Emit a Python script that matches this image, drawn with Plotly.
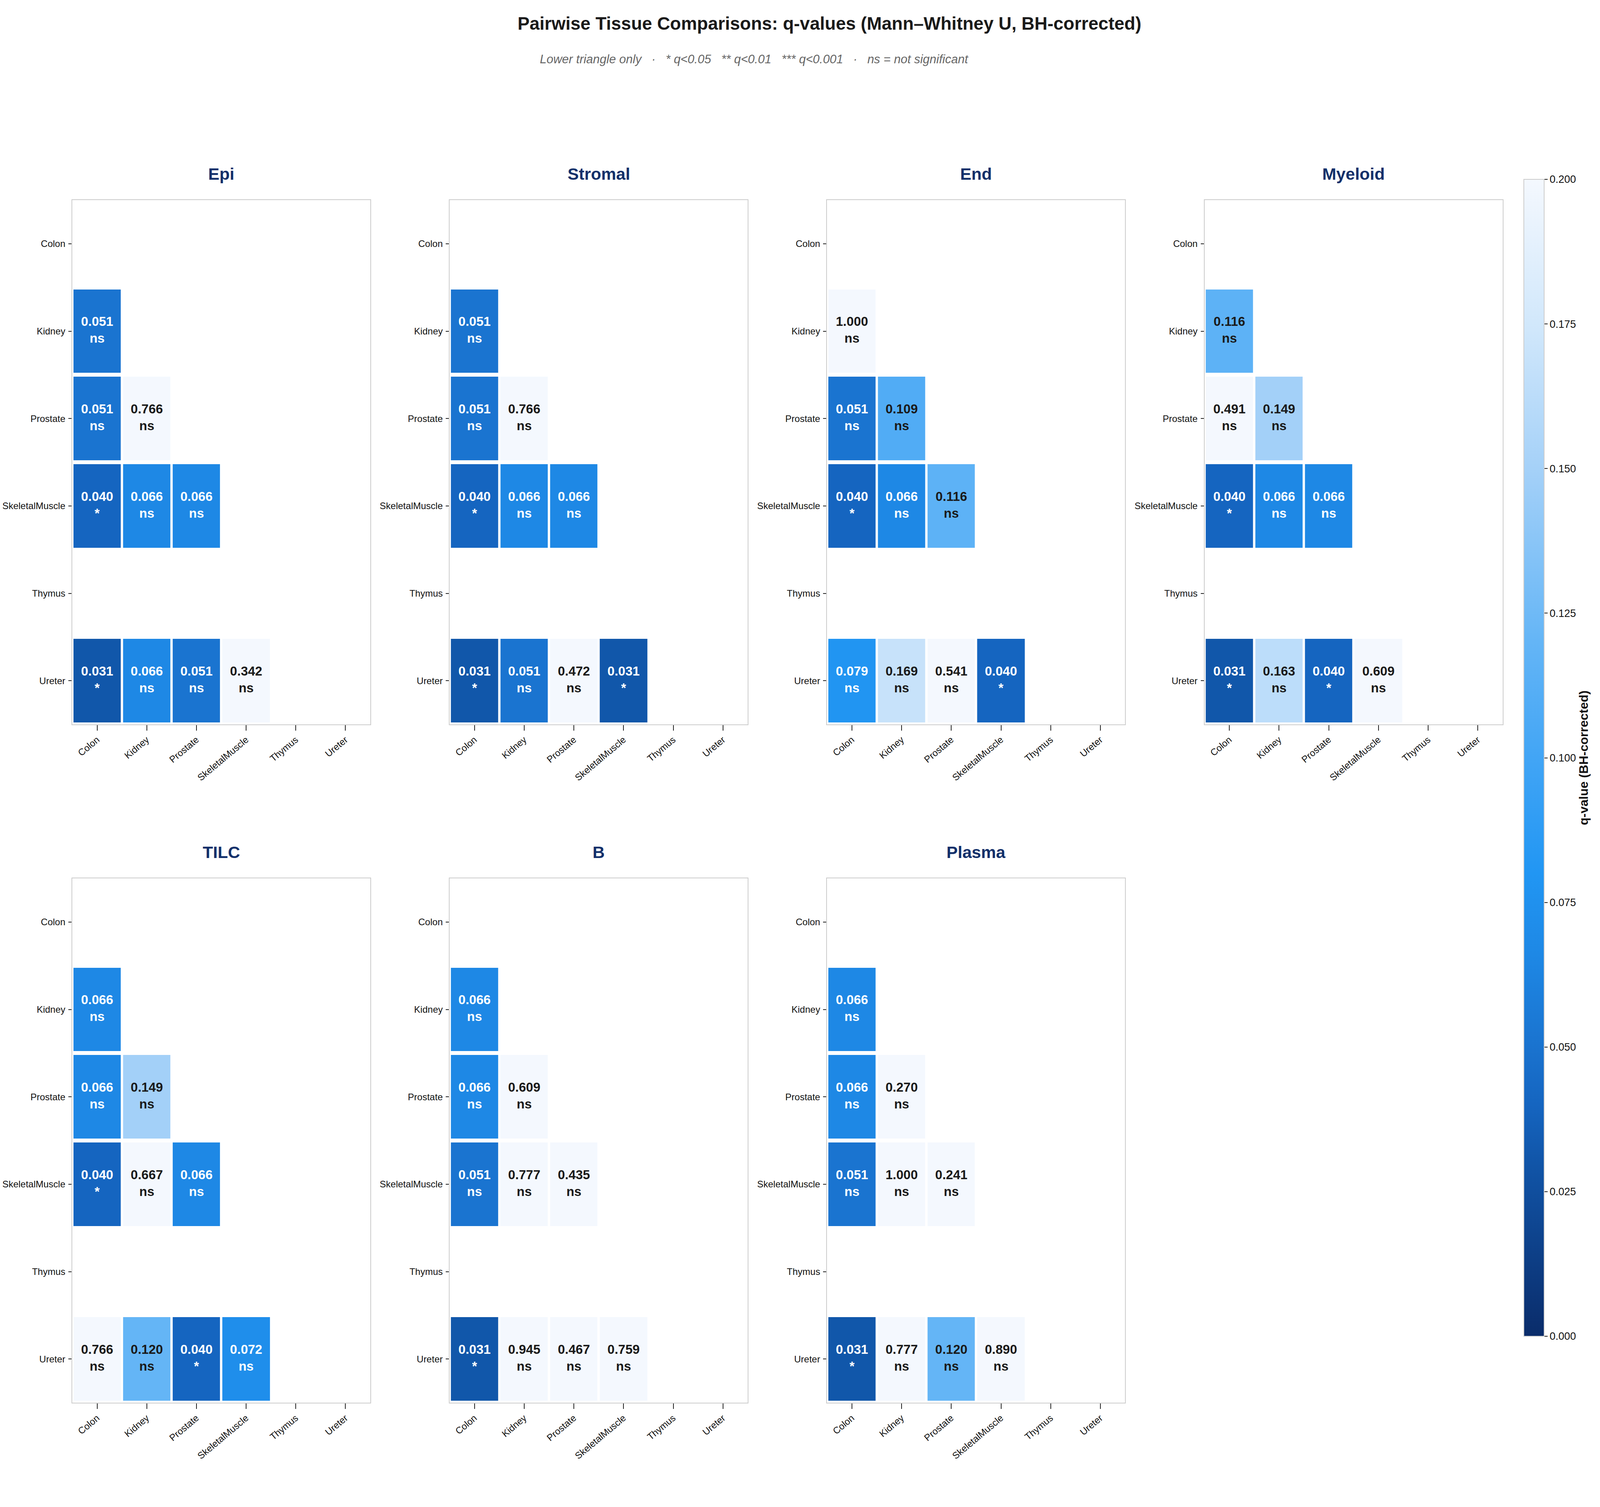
import plotly.graph_objects as go

# Browser viewport in the sandbox is clamped to 4096 px wide, so the figure is
# laid out in fractions of the reference canvas (7457 x 3857) and drawn 4096 wide.
REF_W, REF_H = 7457, 3857
W, H = 4096, 3857
SX = W / REF_W

tissues = ["Colon", "Kidney", "Prostate", "SkeletalMuscle", "Thymus", "Ureter"]
panel_names = ["Epi", "Stromal", "End", "Myeloid", "TILC", "B", "Plasma"]

N = None
q_epi = [
    [N, N, N, N, N, N],
    [0.051, N, N, N, N, N],
    [0.051, 0.766, N, N, N, N],
    [0.040, 0.066, 0.066, N, N, N],
    [N, N, N, N, N, N],
    [0.031, 0.066, 0.051, 0.342, N, N],
]
q_stromal = [
    [N, N, N, N, N, N],
    [0.051, N, N, N, N, N],
    [0.051, 0.766, N, N, N, N],
    [0.040, 0.066, 0.066, N, N, N],
    [N, N, N, N, N, N],
    [0.031, 0.051, 0.472, 0.031, N, N],
]
q_end = [
    [N, N, N, N, N, N],
    [1.000, N, N, N, N, N],
    [0.051, 0.109, N, N, N, N],
    [0.040, 0.066, 0.116, N, N, N],
    [N, N, N, N, N, N],
    [0.079, 0.169, 0.541, 0.040, N, N],
]
q_myeloid = [
    [N, N, N, N, N, N],
    [0.116, N, N, N, N, N],
    [0.491, 0.149, N, N, N, N],
    [0.040, 0.066, 0.066, N, N, N],
    [N, N, N, N, N, N],
    [0.031, 0.163, 0.040, 0.609, N, N],
]
q_tilc = [
    [N, N, N, N, N, N],
    [0.066, N, N, N, N, N],
    [0.066, 0.149, N, N, N, N],
    [0.040, 0.667, 0.066, N, N, N],
    [N, N, N, N, N, N],
    [0.766, 0.120, 0.040, 0.072, N, N],
]
q_b = [
    [N, N, N, N, N, N],
    [0.066, N, N, N, N, N],
    [0.066, 0.609, N, N, N, N],
    [0.051, 0.777, 0.435, N, N, N],
    [N, N, N, N, N, N],
    [0.031, 0.945, 0.467, 0.759, N, N],
]
q_plasma = [
    [N, N, N, N, N, N],
    [0.066, N, N, N, N, N],
    [0.066, 0.270, N, N, N, N],
    [0.051, 1.000, 0.241, N, N, N],
    [N, N, N, N, N, N],
    [0.031, 0.777, 0.120, 0.890, N, N],
]
q_all = [q_epi, q_stromal, q_end, q_myeloid, q_tilc, q_b, q_plasma]

cbar_ticks = [0.0, 0.025, 0.05, 0.075, 0.1, 0.125, 0.15, 0.175, 0.2]

colorscale = [
    [0.00, "#0a2c6a"],
    [0.15, "#1155a8"],
    [0.20, "#1565c0"],
    [0.25, "#1a73cf"],
    [0.33, "#1e88e5"],
    [0.40, "#2196f3"],
    [0.50, "#42a5f5"],
    [0.60, "#64b5f6"],
    [0.75, "#a5d1f8"],
    [0.87, "#d0e7fb"],
    [1.00, "#f4f8fe"],
]

FONT = "Liberation Sans, Arial, sans-serif"
# reference-canvas pixel positions of the plot areas
col_left_px = [337, 2096, 3855, 5614]
row_top_px = [512, 2248]
plot_w_px, plot_h_px = 1389, 1342


def fx(px):
    return px / REF_W


def fy(px):
    return 1 - px / REF_H


def sig_label(q):
    if q < 0.001:
        return "***"
    if q < 0.01:
        return "**"
    if q < 0.05:
        return "*"
    return "ns"


fig = go.Figure()
layout = dict(
    width=W, height=H, autosize=False,
    margin=dict(l=0, r=0, t=0, b=0, pad=0),
    paper_bgcolor="white", plot_bgcolor="white",
    font=dict(family=FONT, color="#111111"),
    showlegend=False,
)
annotations = []

for i, (name, q) in enumerate(zip(panel_names, q_all)):
    r, c = divmod(i, 4)
    n = i + 1
    sfx = "" if n == 1 else str(n)
    x0 = fx(col_left_px[c])
    x1 = fx(col_left_px[c] + plot_w_px)
    y1 = fy(row_top_px[r])
    y0 = fy(row_top_px[r] + plot_h_px)

    fig.add_trace(go.Heatmap(
        x=tissues, y=tissues, z=q,
        coloraxis="coloraxis", xgap=6, ygap=10,
        hoverinfo="skip", xaxis="x" + sfx, yaxis="y" + sfx,
    ))

    xs, ys, txt, cols = [], [], [], []
    for ri, row in enumerate(q):
        for ci, v in enumerate(row):
            if v is None:
                continue
            xs.append(tissues[ci])
            ys.append(tissues[ri])
            txt.append(f"{v:.3f}<br>{sig_label(v)}")
            cols.append("#ffffff" if v < 0.1 else "#1a1a1a")
    fig.add_trace(go.Scatter(
        x=xs, y=ys, text=txt, mode="text",
        textposition="middle center",
        textfont=dict(family=FONT, size=33, color=cols, weight="bold"),
        hoverinfo="skip", xaxis="x" + sfx, yaxis="y" + sfx,
    ))

    axis_common = dict(
        showline=True, mirror=True, linecolor="#cccccc", linewidth=2,
        ticks="outside", tickwidth=2, tickcolor="#222222",
        tickfont=dict(family=FONT, size=24, color="#111111"),
        showgrid=False, zeroline=False, type="category",
        categoryorder="array", categoryarray=tissues, fixedrange=True,
    )
    layout["xaxis" + sfx] = dict(
        axis_common, domain=[x0, x1], anchor="y" + sfx,
        range=[-0.5, 5.5], tickangle=-40, ticklen=14,
    )
    layout["yaxis" + sfx] = dict(
        axis_common, domain=[y0, y1], anchor="x" + sfx,
        range=[5.5, -0.5], ticklen=8, ticklabelstandoff=3,
    )
    annotations.append(dict(
        text=name, xref="paper", yref="paper",
        x=(x0 + x1) / 2, y=fy(row_top_px[r] - 67),
        xanchor="center", yanchor="middle", showarrow=False,
        font=dict(family=FONT, size=43, color="#12306a", weight="bold"),
    ))

annotations.append(dict(
    text="Pairwise Tissue Comparisons: q-values (Mann–Whitney U, BH-corrected)",
    xref="paper", yref="paper", x=fx(3866), y=fy(60),
    xanchor="center", yanchor="middle", showarrow=False,
    font=dict(family=FONT, size=46, color="#1a1a1a", weight="bold"),
))
sp = "\u00a0\u00a0\u00a0"
annotations.append(dict(
    text=("Lower triangle only" + sp + "·" + sp + "* q&lt;0.05" + sp +
          "** q&lt;0.01" + sp + "*** q&lt;0.001" + sp + "·" + sp +
          "ns = not significant"),
    xref="paper", yref="paper", x=fx(3515), y=fy(152),
    xanchor="center", yanchor="middle", showarrow=False,
    font=dict(family=FONT, size=31, color="#666666", style="italic"),
))

layout["annotations"] = annotations
layout["coloraxis"] = dict(
    colorscale=colorscale, cmin=0, cmax=0.2,
    colorbar=dict(
        x=fx(7102), xanchor="left", xpad=0, ypad=0,
        y=1 - (459 + 3420) / 2 / REF_H, yanchor="middle",
        len=(3420 - 459) / REF_H, lenmode="fraction",
        thickness=round(95 * SX), thicknessmode="pixels",
        outlinecolor="#cccccc", outlinewidth=2,
        ticks="outside", ticklen=8, tickwidth=2, tickcolor="#222222",
        tickvals=cbar_ticks, tickformat=".3f",
        tickfont=dict(family=FONT, size=27, color="#111111"),
        title=dict(
            text="q-value (BH-corrected)", side="right",
            font=dict(family=FONT, size=32, color="#111111", weight="bold"),
        ),
    ),
)

fig.update_layout(**layout)
fig.write_html(
    "out.html",
    config={"displayModeBar": False, "staticPlot": True},
    post_script="document.body.style.margin='0';",
)
